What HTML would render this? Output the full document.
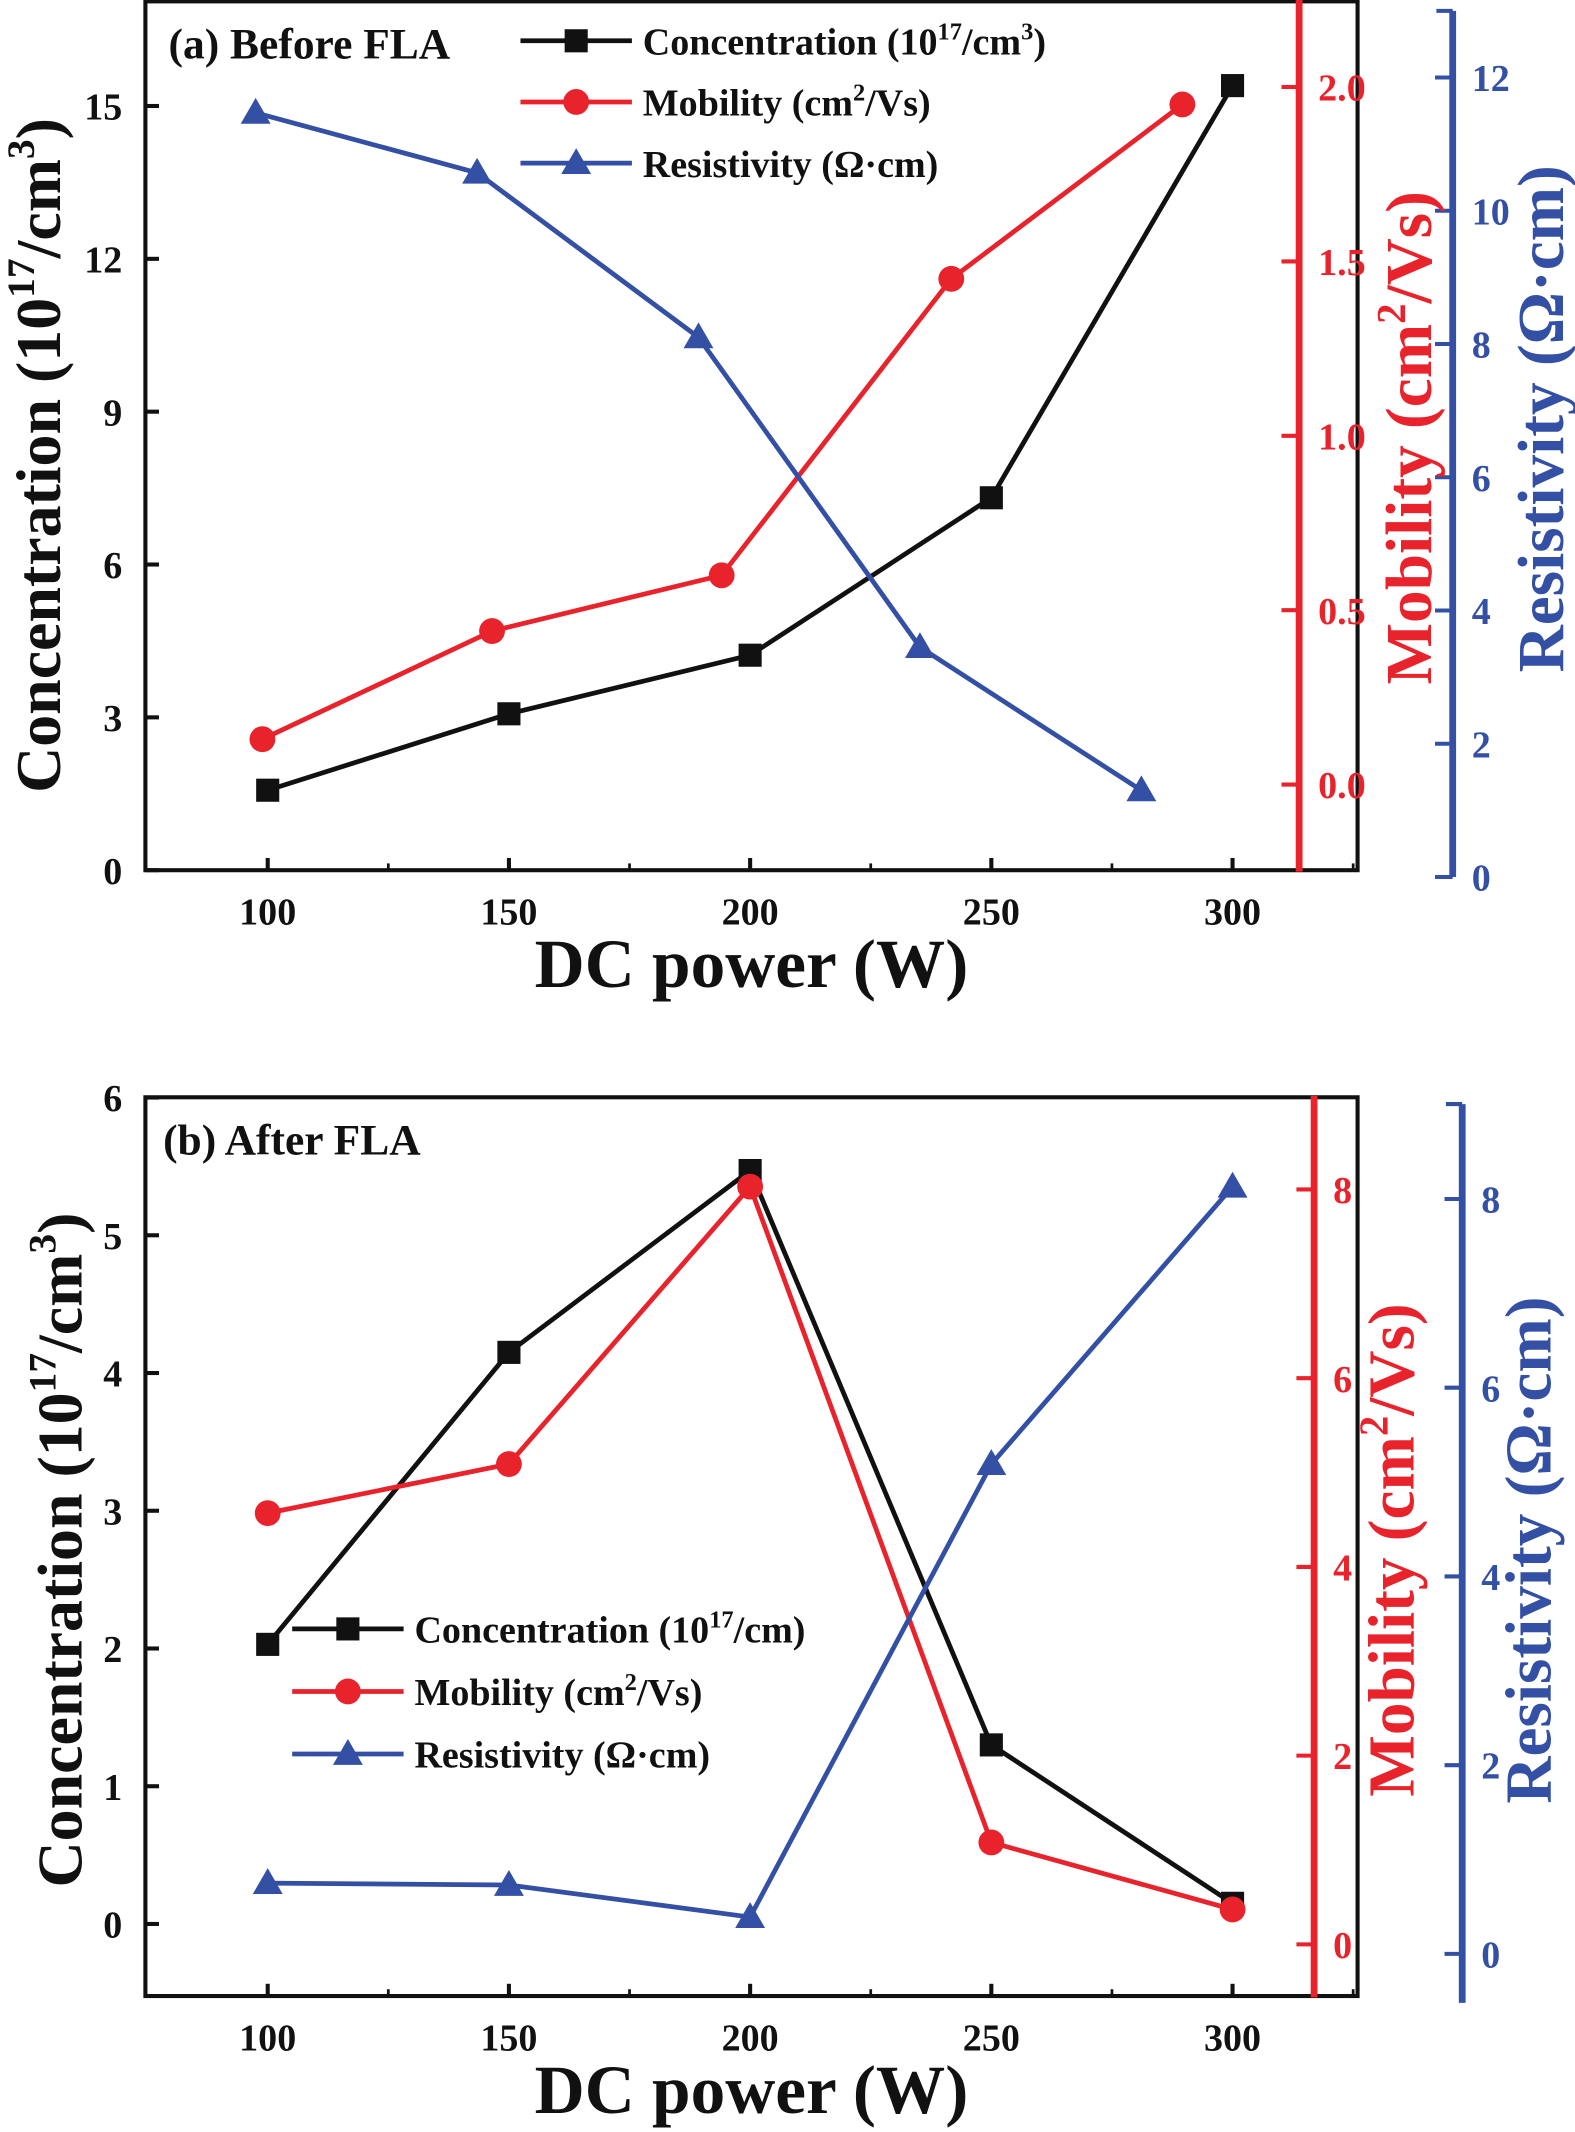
<!DOCTYPE html>
<html><head><meta charset="utf-8">
<style>
html,body{margin:0;padding:0;background:#fff}
svg{display:block}
text{font-family:"Liberation Serif",serif;font-weight:bold}
</style></head>
<body>
<svg id="chart" xmlns="http://www.w3.org/2000/svg" width="1575" height="2132" viewBox="0 0 1159 1568" preserveAspectRatio="none"></svg>
<script>
// ---- Panel (a) data ----
const aConcX = [100,150,200,250,300];
const aConc = [1.57,3.07,4.22,7.31,15.4];
const aMobX = [98.9,146.5,194.1,241.7,289.6];
const aMob = [0.13,0.44,0.60,1.45,1.95];
const aResX = [97.5,143.4,189.3,235.2,281.1];
const aRes = [11.47,10.57,8.1,3.45,1.3];
// ---- Panel (b) data ----
const bX = [100,150,200,250,300];
const bConc = [2.03,4.15,5.47,1.3,0.15];
const bMob = [4.57,5.09,8.03,1.08,0.37];
const bRes = [0.75,0.73,0.39,5.19,8.13];
// ---- ticks ----
const xTicks = [100,150,200,250,300];
const aLeftTicks = [0,3,6,9,12,15];
const aMobTicks = ["0.0","0.5","1.0","1.5","2.0"];
const aResTicks = [0,2,4,6,8,10,12];
const bLeftTicks = [0,1,2,3,4,5,6];
const bMobTicks = [0,2,4,6,8];
const bResTicks = [0,2,4,6,8];

const NS="http://www.w3.org/2000/svg";
const svg=document.getElementById('chart');
const BLACK="#111", RED="#e8232b", BLUE="#3350a5";
function el(tag,attrs,parent){const e=document.createElementNS(NS,tag);for(const k in attrs)e.setAttribute(k,attrs[k]);(parent||svg).appendChild(e);return e;}
function txt(s,x,y,size,fill,anchor,parent,rot){const t=el('text',{x:x,y:y,'font-size':size,fill:fill,'text-anchor':anchor||'middle'},parent);if(rot)t.setAttribute('transform',`rotate(-90 ${x} ${y})`);t.innerHTML=s;return t;}
const xs=v=>197+(v-100)*3.55;

function marker(type,x,y,color,g){
  let m;
  if(type==='sq'){m=el('rect',{x:x-8.5,y:y-8.5,width:17,height:17,fill:color},g);}
  else if(type==='ci'){m=el('circle',{cx:x,cy:y,r:9.5,fill:color},g);}
  else {m=el('polygon',{points:`${x},${y-11} ${x-11},${y+8} ${x+11},${y+8}`,fill:color},g);}
  return m;
}
function series(name,xsArr,ys,yfun,color,type){
  const g=el('g',{});
  
  
  const pts=xsArr.map((v,i)=>[xs(v),yfun(ys[i])]);
  const pl=el('polyline',{points:pts.map(p=>p.join(',')).join(' '),fill:'none',stroke:color,'stroke-width':3.5},g);
  
  
  pts.forEach((p,i)=>{const m=marker(type,p[0],p[1],color,g);
    
    });
}
function legend(x0,y0,gap,labels){
  const g=el('g',{});
  
  
  const cols=[BLACK,RED,BLUE],types=['sq','ci','tr'];
  labels.forEach((l,i)=>{const y=y0+i*gap;
    const e=el('g',{},g);
    
    
    el('line',{x1:x0,y1:y,x2:x0+82,y2:y,stroke:cols[i],'stroke-width':3.5},e);
    marker(types[i],x0+41,y,cols[i],e);
    txt(l,x0+90,y+10,28,'#111','start',e);
  });
}

function panel(p){
  const g=el('g',{});
  
  
  el('rect',{x:107,y:p.top,width:892,height:p.bot-p.top,fill:'none',stroke:BLACK,'stroke-width':3},g);
  xTicks.forEach(v=>{el('line',{x1:xs(v),y1:p.bot,x2:xs(v),y2:p.bot-9,stroke:BLACK,'stroke-width':3},g);
    el('line',{x1:xs(v+25),y1:p.bot,x2:xs(v+25),y2:p.bot-5,stroke:BLACK,'stroke-width':2},g);
    const t=txt(String(v),xs(v),p.bot+40,28,'#111','middle',g);
    });
  p.lt.forEach(v=>{const y=p.ly(v);el('line',{x1:107,y1:y,x2:117,y2:y,stroke:BLACK,'stroke-width':3},g);
    const t=txt(String(v),90,y+10,28,'#111','end',g);
    });
  el('line',{x1:p.rx,y1:p.top-1,x2:p.rx,y2:p.bot+1,stroke:RED,'stroke-width':5},g);
  p.rt.forEach(v=>{const y=p.ry(parseFloat(v));el('line',{x1:p.rx,y1:y,x2:p.rx-13,y2:y,stroke:RED,'stroke-width':3},g);
    const t=txt(String(v),p.rx+14,y+10,28,RED,'start',g);
    });
  el('line',{x1:p.bx,y1:p.btop,x2:p.bx,y2:p.bbot,stroke:BLUE,'stroke-width':5},g);
  el('line',{x1:p.bx,y1:p.btop,x2:p.bx-12,y2:p.btop,stroke:BLUE,'stroke-width':3},g);
  p.bt.forEach(v=>{const y=p.by(v);el('line',{x1:p.bx,y1:y,x2:p.bx-13,y2:y,stroke:BLUE,'stroke-width':3},g);
    const t=txt(String(v),p.bx+14,y+10,28,BLUE,'start',g);
    });
  let t=txt('DC power (W)',553,p.bot+86,51,'#111','middle',g);
  t=txt('Concentration (10<tspan font-size="29" dy="-19">17</tspan><tspan dy="19">/cm</tspan><tspan font-size="29" dy="-19">3</tspan><tspan dy="19">)</tspan>',p.lcx,p.lcy,47,'#111','middle',g,true);
  
  t=txt('Mobility (cm<tspan font-size="30" dy="-19">2</tspan><tspan dy="19">/Vs)</tspan>',p.rcx,p.rcy,48,RED,'middle',g,true);
  
  t=txt('Resistivity (Ω·cm)',p.bcx,p.bcy,48,BLUE,'middle',g,true);
  
  t=txt(p.label,p.labx,p.laby,32,'#111','start',g);
  
}

const aLy=v=>640-v*37.47, aRy=v=>577-v*256.5, aBy=v=>645-v*49;
panel({name:'panel-a',top:1,bot:640,lt:aLeftTicks,ly:aLy,rx:956,rt:aMobTicks,ry:aRy,
  bx:1069,btop:8,bbot:645,bt:aResTicks,by:aBy,lcx:44,lcy:335,rcx:1053,rcy:322,bcx:1150,bcy:308,
  label:'(a) Before FLA',labx:124,laby:43});
series('concentration-a',aConcX,aConc,aLy,BLACK,'sq');
series('mobility-a',aMobX,aMob,aRy,RED,'ci');
series('resistivity-a',aResX,aRes,aBy,BLUE,'tr');
legend(383,30,45,['Concentration (10<tspan font-size="18" dy="-11">17</tspan><tspan dy="11">/cm</tspan><tspan font-size="18" dy="-11">3</tspan><tspan dy="11">)</tspan>','Mobility (cm<tspan font-size="18" dy="-11">2</tspan><tspan dy="11">/Vs)</tspan>','Resistivity (Ω·cm)']);

const bLy=v=>1415-v*101.3, bRy=v=>1430-v*69.4, bBy=v=>1437-v*69.4;
panel({name:'panel-b',top:807,bot:1468,lt:bLeftTicks,ly:bLy,rx:967,rt:bMobTicks,ry:bRy,
  bx:1076,btop:812,bbot:1473,bt:bResTicks,by:bBy,lcx:60,lcy:1140,rcx:1040,rcy:1140,bcx:1141,bcy:1140,
  label:'(b) After FLA',labx:120,laby:849});
series('concentration-b',bX,bConc,bLy,BLACK,'sq');
series('mobility-b',bX,bMob,bRy,RED,'ci');
series('resistivity-b',bX,bRes,bBy,BLUE,'tr');
legend(215,1198,46,['Concentration (10<tspan font-size="18" dy="-11">17</tspan><tspan dy="11">/cm)</tspan>','Mobility (cm<tspan font-size="18" dy="-11">2</tspan><tspan dy="11">/Vs)</tspan>','Resistivity (Ω·cm)']);
</script>
</body></html>
